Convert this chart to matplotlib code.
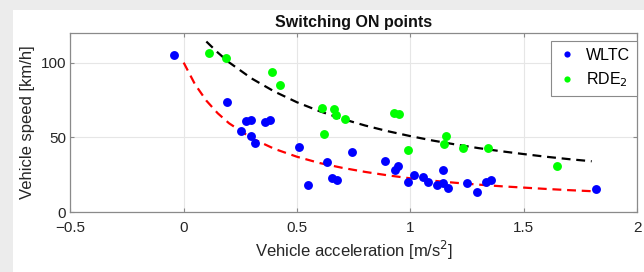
import matplotlib
matplotlib.use("Agg")
import matplotlib.pyplot as plt
from matplotlib.patches import Rectangle

plt.rcParams['font.family'] = ['Liberation Sans', 'DejaVu Sans']

# WLTC switching ON points (acceleration m/s^2, speed km/h)
wltc_acc = [-0.044, 0.189, 0.275, 0.298, 0.254, 0.297, 0.316, 0.36, 0.38, 0.507,
            0.549, 0.634, 0.655, 0.677, 0.741, 0.888, 0.932, 0.944, 0.991, 1.018,
            1.057, 1.079, 1.117, 1.144, 1.142, 1.166, 1.248, 1.292, 1.333, 1.354, 1.819]
wltc_speed = [104.8, 73.6, 61.0, 62.0, 54.6, 50.7, 46.0, 60.1, 61.9, 43.8,
              18.5, 33.3, 22.6, 21.5, 40.3, 34.2, 28.4, 30.6, 20.1, 24.8,
              23.9, 20.1, 18.5, 28.4, 19.9, 16.1, 19.5, 13.8, 20.3, 21.5, 15.4]

# RDE_2 switching ON points
rde_acc = [0.110, 0.186, 0.388, 0.423, 0.609, 0.620, 0.665, 0.670, 0.711, 0.927,
           0.948, 0.990, 1.157, 1.147, 1.232, 1.341, 1.645]
rde_speed = [106.7, 102.9, 94.0, 84.8, 69.5, 52.6, 68.7, 65.3, 62.4, 66.2,
             65.8, 41.6, 50.7, 45.6, 42.7, 42.7, 30.6]

# fitted trend curves
wltc_fit_x = [0.0, 0.05, 0.1, 0.15, 0.2, 0.3, 0.4, 0.5, 0.6, 0.7, 0.8, 0.9, 1.0,
              1.1, 1.2, 1.3, 1.4, 1.5, 1.6, 1.7, 1.8]
wltc_fit_y = [100.0, 85.5, 74.6, 66.2, 59.5, 49.5, 42.4, 37.1, 32.9, 29.7, 27.0,
              24.7, 22.7, 21.1, 19.7, 18.5, 17.4, 16.5, 15.6, 14.8, 14.1]
rde_fit_x = [0.1, 0.15, 0.2, 0.3, 0.4, 0.5, 0.6, 0.7, 0.8, 0.9, 1.0, 1.1, 1.2,
             1.3, 1.4, 1.5, 1.6, 1.7, 1.8]
rde_fit_y = [114.1, 106.8, 100.2, 89.4, 80.7, 73.5, 67.5, 62.4, 58.0, 54.2, 50.9,
             47.9, 45.3, 42.9, 40.8, 38.9, 37.1, 35.5, 34.1]

fig = plt.figure(figsize=(6.44, 2.72), dpi=100, facecolor='#ececec')
fig.patches.append(Rectangle((13 / 644, 0), 1, 262 / 272, transform=fig.transFigure,
                             facecolor='white', edgecolor='none', zorder=-10))
ax = fig.add_axes([0.1092, 0.2195, 0.880, 0.6603])
ax.set_zorder(1)

ax.grid(True, color='#e6e6e6', linewidth=0.8)
ax.set_axisbelow(True)

ax.plot(wltc_fit_x, wltc_fit_y, color='red', linestyle=(0, (4, 2.6)), linewidth=1.6, zorder=2)
ax.plot(rde_fit_x, rde_fit_y, color='black', linestyle=(0, (4, 2.6)), linewidth=1.6, zorder=2)
ax.plot(wltc_acc, wltc_speed, 'o', color='#0000ff', markersize=6.4, markeredgewidth=0,
        label='WLTC', zorder=3)
ax.plot(rde_acc, rde_speed, 'o', color='#00ff00', markersize=6.4, markeredgewidth=0,
        label='RDE$_2$', zorder=3)

ax.set_xlim(-0.5, 2)
ax.set_ylim(0, 120)
ax.set_xticks([-0.5, 0, 0.5, 1, 1.5, 2])
ax.set_xticklabels(['\u22120.5', '0', '0.5', '1', '1.5', '2'])
ax.set_yticks([0, 50, 100])
ax.tick_params(direction='in', length=3, width=0.8, colors='#8a8a8a', labelcolor='#262626',
               labelsize=11, top=True, right=True)
ax.tick_params(axis='x', pad=6)
ax.tick_params(axis='y', pad=3)
for s in ax.spines.values():
    s.set_color('#8a8a8a')
    s.set_linewidth(0.9)

ax.set_title('Switching ON points', fontsize=11.5, fontweight='bold', color='#111111', pad=4)
ax.set_xlabel('Vehicle acceleration [m/s$^2$]', fontsize=12, color='#262626', labelpad=3)
ax.set_ylabel('Vehicle speed [km/h]', fontsize=12, color='#262626', labelpad=4)

leg = ax.legend(loc='upper right', bbox_to_anchor=(1.0, 0.955), borderaxespad=0,
                fontsize=11.5, markerscale=0.7, handlelength=1.0, handletextpad=0.7,
                labelspacing=0.45, borderpad=0.45, fancybox=False, framealpha=1)
leg.get_frame().set_edgecolor('#8a8a8a')
leg.get_frame().set_linewidth(0.8)

fig.savefig('out.png', dpi=100, facecolor=fig.get_facecolor())
